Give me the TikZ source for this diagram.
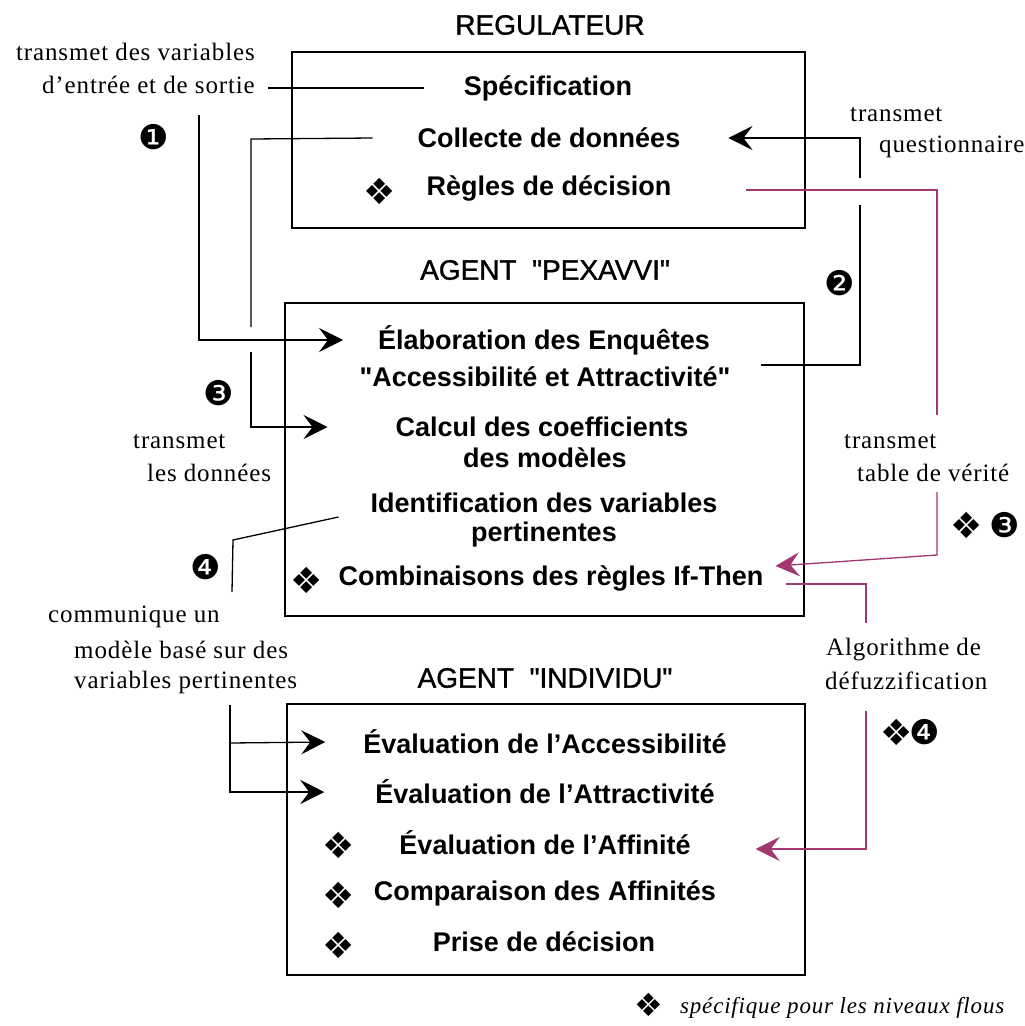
\documentclass[tikz,border=0pt]{standalone}
\usepackage{fontspec}
\setmainfont{Liberation Sans}[Ligatures=TeXOff]
\newfontfamily\titlefont{Liberation Sans}[Ligatures=TeXOff,FakeBold=1.2]
\newfontfamily\annfont{Liberation Serif}[LetterSpace=3.5]
\newfontfamily\symfont{DejaVu Sans}
\usetikzlibrary{arrows.meta}
\definecolor{mag}{RGB}{162,56,112}
\begin{document}
\begin{tikzpicture}[x=1pt,y=-1pt,
  box/.style={draw=black,line width=1.6pt},
  title/.style={inner sep=0pt,font=\fontsize{28}{32}\selectfont\titlefont},
  item/.style={inner sep=0pt,font=\fontsize{27}{32}\selectfont\bfseries},
  ann/.style={inner sep=0pt,anchor=west,font=\fontsize{25}{30}\selectfont\annfont},
  dia/.style={inner sep=0pt,font=\fontsize{36}{40}\selectfont\symfont},
  badge/.style={inner sep=0pt,font=\fontsize{34}{38}\selectfont\symfont},
  conn/.style={line width=1.3pt},
  arr/.style={conn,-{Stealth[length=24pt,width=24pt,inset=9pt]}},
  magarr/.style={conn,draw=mag,-{Stealth[length=24pt,width=24pt,inset=9pt,fill=mag]}},
  magline/.style={conn,draw=mag}]
\useasboundingbox (0,0) rectangle (1025,1026);
\fill[white] (0,0) rectangle (1025,1026);

% ---------- REGULATEUR ----------
\node[title] (tReg) at (550,25) {REGULATEUR};
\draw[box] (292,52) rectangle (805,228);
\node[item] (spec) at (548,88) {Spécification};
\node[item] (coll) at (549,138) {Collecte de données};
\node[item] (regl) at (549,188) {Règles de décision};
\node[dia] (dReg) at (380,191) {❖};

% ---------- PEXAVVI ----------
\node[title] (tPex) at (545,270) {AGENT\ \ "PEXAVVI"};
\draw[box] (285,303) rectangle (804,616);
\node[item] (elab) at (544,340) {Élaboration des Enquêtes};
\node[item] (acc) at (545,377) {"Accessibilité et Attractivité"};
\node[item] (calcA) at (542,427) {Calcul des coefficients};
\node[item] (calcB) at (545,458) {des modèles};
\node[item] (identA) at (544,503) {Identification des variables};
\node[item] (identB) at (544,535) {pertinentes};
\node[item] (comb) at (551,578) {Combinaisons des règles If-Then};
\node[dia] (dComb) at (307,580) {❖};

% ---------- INDIVIDU ----------
\node[title] (tInd) at (545,678) {AGENT\ \ "INDIVIDU"};
\draw[box] (287,704) rectangle (805,975);
\node[item] (evAcc) at (545,742) {Évaluation de l’Accessibilité};
\node[item] (evAtt) at (545,792) {Évaluation de l’Attractivité};
\node[item] (evAff) at (545,843) {Évaluation de l’Affinité};
\node[item] (comp) at (545,893) {Comparaison des Affinités};
\node[item] (prise) at (544,942) {Prise de décision};
\node[dia] (dAff) at (339,845) {❖};
\node[dia] (dComp) at (339,895) {❖};
\node[dia] (dPrise) at (339,945) {❖};

% ---------- annotations ----------
\node[ann,anchor=east] (a1a) at (255,52) {transmet des variables};
\node[ann,anchor=east] (a1b) at (255,85) {d’entrée et de sortie};
\node[ann] (a2a) at (850,115) {transmet};
\node[ann] (a2b) at (879,147) {questionnaire};
\node[ann] (a3a) at (133,442) {transmet};
\node[ann] (a3b) at (147,473) {les données};
\node[ann] (a4a) at (844,442) {transmet};
\node[ann] (a4b) at (857,473) {table de vérité};
\node[ann] (a5a) at (48,617) {communique un};
\node[ann] (a5b) at (74,650) {modèle basé sur des};
\node[ann] (a5c) at (74,682) {variables pertinentes};
\node[ann] (a6a) at (826,650) {Algorithme de};
\node[ann] (a6b) at (825,681) {défuzzification};

% badges
\node[badge] (b1) at (154,137) {❶};
\node[badge] (b2) at (840,283) {❷};
\node[badge] (b3) at (219,393) {❸};
\node[badge] (b4) at (206,567) {❹};
\node[dia] (d3r) at (967,525) {❖};
\node[badge] (b3r) at (1005,525) {❸};
\node[dia] (d4r) at (897,732) {❖};
\node[badge] (b4r) at (925,732) {❹};

% footer
\node[inner sep=0pt,font=\fontsize{32}{34}\selectfont\symfont] (dFoot) at (649,1005) {❖};
\node[ann,font=\fontsize{23}{26}\selectfont\annfont\itshape] (foot) at (680,1008) {spécifique pour les niveaux flous};

% ---------- connectors ----------
% specification link
\draw[conn] ([xshift=13pt]a1b.east |- spec) -- ([xshift=-40pt]spec.west);
% 1 : variables -> Elaboration
\coordinate (c1) at (199,115);
\draw[arr] (c1) |- ([xshift=-35pt]elab.west);
% 3 : Collecte -> Calcul (with line jump)
\coordinate (c3a) at (251,139);
\coordinate (c3b) at (251,327);
\coordinate (c3c) at (251,352);
\draw[conn] ([xshift=-45pt]coll.west) -- (c3a) -- (c3b);
\draw[arr] (c3c) |- ([xshift=-68pt]calcA.west);
% 2 : Accessibilite -> Collecte (with jump over magenta)
\coordinate (c2a) at (761,365);
\coordinate (c2b) at (860,365);
\coordinate (c2c) at (860,205);
\coordinate (c2d) at (860,178);
\draw[conn] (c2a) -- (c2b) -- (c2c);
\draw[arr] (c2d) |- ([xshift=48pt]coll.east);
% magenta 3 : Regles -> Combinaisons
\coordinate (m3a) at (937,190);
\coordinate (m3b) at (937,415);
\coordinate (m3c) at (937,492);
\coordinate (m3d) at (937,555);
\draw[magline] ([xshift=75pt]regl.east |- m3a) -- (m3a) -- (m3b);
\draw[magarr] (m3c) -- (m3d) -- ([xshift=12pt,yshift=12pt]comb.east);
% magenta 4 : Combinaisons -> Affinite
\coordinate (m4a) at (866,584);
\coordinate (m4b) at (866,623);
\coordinate (m4c) at (866,711);
\draw[magline] ([xshift=23pt]comb.east |- m4a) -- (m4a) -- (m4b);
\draw[magarr] (m4c) |- ([xshift=65pt,yshift=-6pt]evAff.east);
% 4 : Identification -> model
\coordinate (c4a) at (233,540);
\coordinate (c4b) at (232,592);
\draw[conn] ([xshift=-32pt,yshift=-14pt]identA.west) -- (c4a) -- (c4b);
% model -> individu
\coordinate (c5a) at (230,705);
\coordinate (c5b) at (230,743);
\draw[arr] (c5a) |- ([xshift=-51pt]evAtt.west);
\draw[arr] (c5b) -- ([xshift=-38pt]evAcc.west);
\end{tikzpicture}
\end{document}
